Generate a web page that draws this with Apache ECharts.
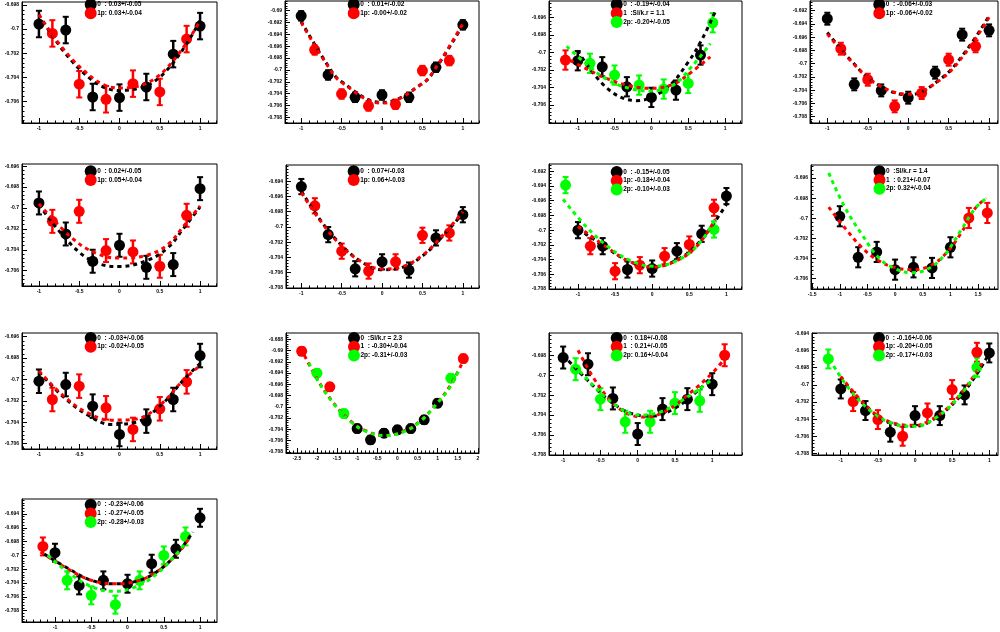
<!DOCTYPE html>
<html><head><meta charset="utf-8">
<script src="https://cdn.jsdelivr.net/npm/echarts@6/dist/echarts.min.js"></script>
<style>html,body{margin:0;padding:0;background:#fff;}#c{width:1000px;height:632px;}</style>
</head><body><div id="c"></div>
<script>
// ---------- tick labels ----------
const XT_STD = [-1, -0.5, 0, 0.5, 1];
const XT_P8 = [-1.5, -1, -0.5, 0, 0.5, 1, 1.5];
const XT_P10 = [-2.5, -2, -1.5, -1, -0.5, 0, 0.5, 1, 1.5, 2];
const YT_P1 = [-0.706, -0.704, -0.702, -0.7, -0.698];
const YT_P2 = [-0.708, -0.706, -0.704, -0.702, -0.7, -0.698, -0.696, -0.694, -0.692, -0.69];
const YT_P3 = [-0.706, -0.704, -0.702, -0.7, -0.698, -0.696];
const YT_P4 = [-0.708, -0.706, -0.704, -0.702, -0.7, -0.698, -0.696, -0.694, -0.692];
const YT_P5 = [-0.706, -0.704, -0.702, -0.7, -0.698, -0.696];
const YT_P6 = [-0.708, -0.706, -0.704, -0.702, -0.7, -0.698, -0.696, -0.694];
const YT_P7 = [-0.708, -0.706, -0.704, -0.702, -0.7, -0.698, -0.696, -0.694, -0.692];
const YT_P8 = [-0.706, -0.704, -0.702, -0.7, -0.698, -0.696];
const YT_P9 = [-0.706, -0.704, -0.702, -0.7, -0.698, -0.696];
const YT_P10 = [-0.708, -0.706, -0.704, -0.702, -0.7, -0.698, -0.696, -0.694, -0.692, -0.69, -0.688];
const YT_P11 = [-0.708, -0.706, -0.704, -0.702, -0.7, -0.698];
const YT_P12 = [-0.708, -0.706, -0.704, -0.702, -0.7, -0.698, -0.696, -0.694];
const YT_P13 = [-0.708, -0.706, -0.704, -0.702, -0.7, -0.698, -0.696, -0.694];

// ---------- legend texts ----------
const LEG_P1 = ['0  : 0.03+/-0.05', '1p: 0.03+/-0.04'];
const LEG_P2 = ['0  : 0.01+/-0.02', '1p: -0.00+/-0.02'];
const LEG_P3 = ['0  : -0.19+/-0.04', '1  :Sl/k.r = 1.1', '2p: -0.20+/-0.05'];
const LEG_P4 = ['0  : -0.06+/-0.03', '1p: -0.06+/-0.02'];
const LEG_P5 = ['0  : 0.02+/-0.05', '1p: 0.05+/-0.04'];
const LEG_P6 = ['0  : 0.07+/-0.03', '1p: 0.06+/-0.03'];
const LEG_P7 = ['0  : -0.15+/-0.05', '1p: -0.18+/-0.04', '2p: -0.10+/-0.03'];
const LEG_P8 = ['0  :Sl/k.r = 1.4', '1  : 0.21+/-0.07', '2p: 0.32+/-0.04'];
const LEG_P9 = ['0  : -0.03+/-0.06', '1p: -0.02+/-0.05'];
const LEG_P10 = ['0  :Sl/k.r = 2.3', '1  : -0.30+/-0.04', '2p: -0.31+/-0.03'];
const LEG_P11 = ['0  : 0.18+/-0.08', '1  : 0.21+/-0.05', '2p: 0.16+/-0.04'];
const LEG_P12 = ['0  : -0.16+/-0.06', '1p: -0.20+/-0.05', '2p: -0.17+/-0.03'];
const LEG_P13 = ['0  : -0.23+/-0.06', '1  : -0.27+/-0.05', '2p: -0.28+/-0.03'];

// ---------- points [x, y, error] ; fits [x, y] ----------
const P1_K = [[-1,-0.69958,0.0011],[-0.667,-0.70008,0.0011],[-0.333,-0.70564,0.0011],[0,-0.70569,0.0011],[0.333,-0.70481,0.0011],[0.667,-0.70208,0.0011],[1,-0.69975,0.0011]];
const P1_R = [[-0.833,-0.70036,0.0011],[-0.5,-0.70458,0.0011],[-0.167,-0.70583,0.0011],[0.167,-0.70453,0.0011],[0.5,-0.70522,0.0011],[0.833,-0.70083,0.0011]];
const P1_KF = [[-1,-0.6988],[-0.5,-0.7033],[0,-0.7051],[0.5,-0.7040],[1,-0.6993]];
const P1_RF = [[-1,-0.6988],[-0.5,-0.7031],[0,-0.7049],[0.5,-0.7038],[1,-0.6993]];

const P2_K = [[-1,-0.69087,0.0008],[-0.667,-0.70085,0.0008],[-0.333,-0.70462,0.0008],[0,-0.70423,0.0008],[0.333,-0.70462,0.0008],[0.667,-0.69955,0.0008],[1,-0.69239,0.0008]];
const P2_R = [[-0.833,-0.69662,0.0008],[-0.5,-0.70406,0.0008],[-0.167,-0.70608,0.0008],[0.167,-0.7058,0.0008],[0.5,-0.70011,0.0008],[0.833,-0.69842,0.0008]];
const P2_KF = [[-1,-0.6918],[-0.667,-0.6993],[-0.5,-0.7020],[0,-0.7055],[0.5,-0.7023],[0.667,-0.6997],[1,-0.6924]];
const P2_RF = [[-1,-0.6920],[-0.667,-0.6994],[-0.5,-0.7021],[0,-0.7056],[0.5,-0.7023],[0.667,-0.6996],[1,-0.6922]];

const P3_K = [[-1,-0.70095,0.0011],[-0.667,-0.70164,0.0011],[-0.333,-0.70392,0.0011],[0,-0.70513,0.0011],[0.333,-0.7043,0.0011],[0.667,-0.7003,0.0011]];
const P3_R = [[-1.167,-0.70087,0.0011]];
const P3_G = [[-0.833,-0.70125,0.0011],[-0.5,-0.70259,0.0011],[-0.167,-0.70373,0.0011],[0.167,-0.70418,0.0011],[0.5,-0.70354,0.0011],[0.833,-0.69662,0.0011]];
const P3_KF = [[-1,-0.6998],[-0.6,-0.7041],[-0.2,-0.7055],[0.2,-0.7041],[0.5,-0.7011],[0.7,-0.6983],[0.88,-0.6951]];
const P3_RF = [[-1.2,-0.7005],[-0.9,-0.7018],[-0.6,-0.7030],[-0.3,-0.7038],[0,-0.7041],[0.3,-0.7036],[0.55,-0.7022],[0.8,-0.7005]];
const P3_GF = [[-1.15,-0.6993],[-0.9,-0.7012],[-0.6,-0.7031],[-0.3,-0.7041],[0,-0.7044],[0.3,-0.7037],[0.55,-0.7016],[0.8,-0.6990]];

const P4_K = [[-1,-0.69321,0.0009],[-0.667,-0.70312,0.0009],[-0.333,-0.70403,0.0009],[0,-0.70513,0.0009],[0.333,-0.70136,0.0009],[0.667,-0.69562,0.0009],[1,-0.69497,0.0009]];
const P4_R = [[-0.833,-0.69774,0.0009],[-0.5,-0.70242,0.0009],[-0.167,-0.70644,0.0009],[0.167,-0.70443,0.0009],[0.5,-0.6994,0.0009],[0.833,-0.69738,0.0009]];
const P4_KF = [[-1,-0.6953],[-0.7,-0.6996],[-0.4,-0.7030],[0,-0.7047],[0.4,-0.7023],[0.7,-0.6983],[1,-0.6928]];
const P4_RF = [[-1,-0.6955],[-0.7,-0.6997],[-0.4,-0.7030],[0,-0.7046],[0.4,-0.7024],[0.7,-0.6985],[1,-0.6930]];

const P5_K = [[-1,-0.69952,0.0011],[-0.667,-0.70249,0.0011],[-0.333,-0.7051,0.0011],[0,-0.70357,0.0011],[0.333,-0.70568,0.0011],[0.667,-0.70542,0.0011],[1,-0.69815,0.0011]];
const P5_R = [[-0.833,-0.70128,0.0011],[-0.5,-0.70032,0.0011],[-0.167,-0.70408,0.0011],[0.167,-0.70421,0.0011],[0.5,-0.70558,0.0011],[0.833,-0.7007,0.0011]];
const P5_KF = [[-1,-0.6997],[-0.6,-0.7035],[-0.3,-0.7052],[0,-0.7056],[0.35,-0.7050],[0.6,-0.7038],[0.8,-0.7019],[1,-0.6999]];
const P5_RF = [[-1,-0.6996],[-0.6,-0.7028],[-0.3,-0.7043],[0,-0.7048],[0.35,-0.7045],[0.6,-0.7035],[0.8,-0.7017],[1,-0.6998]];

const P6_K = [[-1,-0.6947,0.001],[-0.667,-0.701,0.001],[-0.333,-0.70548,0.001],[0,-0.70457,0.001],[0.333,-0.70565,0.001],[0.667,-0.70143,0.001],[1,-0.69839,0.001]];
const P6_R = [[-0.833,-0.69722,0.001],[-0.5,-0.70317,0.001],[-0.167,-0.70578,0.001],[0.167,-0.70457,0.001],[0.5,-0.70109,0.001],[0.833,-0.70078,0.001]];
const P6_KF = [[-1,-0.6953],[-0.75,-0.6993],[-0.5,-0.7024],[-0.25,-0.7046],[0,-0.7056],[0.25,-0.7053],[0.5,-0.7038],[0.75,-0.7012],[1,-0.6982]];
const P6_RF = [[-1,-0.6955],[-0.75,-0.6994],[-0.5,-0.7025],[-0.25,-0.7046],[0,-0.7055],[0.25,-0.7052],[0.5,-0.7037],[0.75,-0.7011],[1,-0.6980]];

const P7_K = [[-1,-0.7,0.0011],[-0.667,-0.70218,0.0011],[-0.333,-0.70535,0.0011],[0,-0.70522,0.0011],[0.333,-0.70286,0.0011],[0.667,-0.7005,0.0011],[1,-0.69537,0.0011]];
const P7_R = [[-0.833,-0.70218,0.0011],[-0.5,-0.70558,0.0011],[-0.167,-0.70476,0.0011],[0.167,-0.70354,0.0011],[0.5,-0.70195,0.0011],[0.833,-0.69696,0.0011]];
const P7_G = [[-1.167,-0.69388,0.0011],[0.833,-0.69991,0.0011]];
const P7_KF = [[-1,-0.6998],[-0.6,-0.7025],[-0.3,-0.7043],[0,-0.7050],[0.3,-0.7042],[0.6,-0.7020],[1,-0.6965]];
const P7_RF = [[-1,-0.6995],[-0.6,-0.7024],[-0.3,-0.7043],[0,-0.7050],[0.3,-0.7043],[0.6,-0.7022],[0.85,-0.6985]];
const P7_GF = [[-1.2,-0.6958],[-0.9,-0.6994],[-0.6,-0.7022],[-0.3,-0.7041],[0,-0.7049],[0.3,-0.7043],[0.6,-0.7022],[0.85,-0.6985]];

const P8_K = [[-1,-0.6998,0.001],[-0.667,-0.70387,0.001],[-0.333,-0.70334,0.001],[0,-0.7051,0.001],[0.333,-0.70487,0.001],[0.667,-0.70493,0.001],[1,-0.70288,0.001]];
const P8_R = [[1.333,-0.69997,0.001],[1.667,-0.69947,0.001]];
const P8_RF = [[-1.2,-0.6989],[-0.9,-0.7010],[-0.6,-0.7029],[-0.3,-0.7042],[0,-0.7049],[0.3,-0.7051],[0.6,-0.7048],[0.9,-0.7036],[1.2,-0.7014],[1.45,-0.6990],[1.65,-0.6980]];
const P8_GF = [[-1.2,-0.6955],[-0.9,-0.6990],[-0.6,-0.7016],[-0.3,-0.7039],[0,-0.7050],[0.3,-0.7054],[0.6,-0.7050],[0.9,-0.7036],[1.2,-0.7011],[1.45,-0.6990],[1.65,-0.6980]];

const P9_K = [[-1,-0.70016,0.0011],[-0.667,-0.70047,0.0011],[-0.333,-0.70249,0.0011],[0,-0.70514,0.0011],[0.333,-0.70389,0.0011],[0.667,-0.70187,0.0011],[1,-0.69776,0.0011]];
const P9_R = [[-0.833,-0.70187,0.0011],[-0.5,-0.70062,0.0011],[-0.167,-0.70265,0.0011],[0.167,-0.70467,0.0011],[0.5,-0.70274,0.0011],[0.833,-0.70022,0.0011]];
const P9_KF = [[-1,-0.6993],[-0.7,-0.7016],[-0.4,-0.7033],[-0.1,-0.7042],[0.2,-0.7040],[0.5,-0.7025],[0.8,-0.7000],[1,-0.6985]];
const P9_RF = [[-1,-0.6992],[-0.7,-0.7015],[-0.4,-0.7031],[-0.1,-0.7038],[0.2,-0.7037],[0.5,-0.7024],[0.8,-0.7000],[1,-0.6987]];

const P10_K = [[-1,-0.70385,0.0007],[-0.667,-0.70586,0.0007],[-0.333,-0.70467,0.0007],[0,-0.70408,0.0007],[0.333,-0.70385,0.0007],[0.667,-0.70231,0.0007],[1,-0.69935,0.0007]];
const P10_R = [[-2.38,-0.69012,0.0007],[-1.68,-0.69645,0.0007],[1.64,-0.69142,0.0007]];
const P10_G = [[-2.0,-0.69402,0.0007],[-1.33,-0.70118,0.0007],[1.33,-0.69491,0.0007]];
const P10_RF = [[-2.4,-0.6896],[-2,-0.6950],[-1.6,-0.6992],[-1.2,-0.7023],[-0.8,-0.7042],[-0.3,-0.7051],[0.2,-0.7042],[0.6,-0.7023],[1,-0.6992],[1.3,-0.6964],[1.6,-0.6924]];
const P10_GF = [[-2.2,-0.6922],[-2,-0.6951],[-1.6,-0.6993],[-1.2,-0.7024],[-0.8,-0.7043],[-0.3,-0.7051],[0.2,-0.7043],[0.6,-0.7024],[1,-0.6993],[1.3,-0.6966],[1.55,-0.6932]];

const P11_K = [[-1,-0.69823,0.0011],[-0.667,-0.6989,0.0011],[-0.333,-0.70233,0.0011],[0,-0.7059,0.0011],[0.333,-0.7034,0.0011],[0.667,-0.7024,0.0011],[1,-0.7009,0.0011]];
const P11_R = [[1.167,-0.698,0.0011]];
const P11_G = [[-0.833,-0.6994,0.0011],[-0.5,-0.7024,0.0011],[-0.167,-0.70467,0.0011],[0.167,-0.70467,0.0011],[0.5,-0.7028,0.0011],[0.833,-0.70257,0.0011]];
const P11_KF = [[-1,-0.6980],[-0.7,-0.7003],[-0.4,-0.7024],[-0.1,-0.7038],[0.2,-0.7041],[0.5,-0.7033],[0.8,-0.7016],[1,-0.7001]];
const P11_RF = [[-0.8,-0.6975],[-0.5,-0.7013],[-0.2,-0.7036],[0.1,-0.7042],[0.4,-0.7035],[0.7,-0.7018],[1,-0.6998],[1.15,-0.6985]];
const P11_GF = [[-0.85,-0.6990],[-0.6,-0.7010],[-0.3,-0.7030],[0,-0.7040],[0.3,-0.7037],[0.6,-0.7025],[0.9,-0.7010],[1,-0.7004]];

const P12_K = [[-1,-0.70047,0.0011],[-0.667,-0.70298,0.0011],[-0.333,-0.7055,0.0011],[0,-0.70357,0.0011],[0.333,-0.70357,0.0011],[0.667,-0.70116,0.0011],[1,-0.69628,0.0011]];
const P12_R = [[-0.833,-0.70194,0.0011],[-0.5,-0.70403,0.0011],[-0.167,-0.70597,0.0011],[0.167,-0.70326,0.0011],[0.5,-0.70054,0.0011],[0.833,-0.6962,0.0011]];
const P12_G = [[-1.167,-0.69698,0.0011],[0.833,-0.69795,0.0011]];
const P12_KF = [[-1,-0.6992],[-0.6,-0.7030],[-0.3,-0.7045],[0,-0.7048],[0.3,-0.7037],[0.6,-0.7014],[0.85,-0.6985],[1,-0.6963]];
const P12_RF = [[-1,-0.6990],[-0.6,-0.7029],[-0.3,-0.7044],[0,-0.7047],[0.3,-0.7036],[0.6,-0.7012],[0.9,-0.6975]];
const P12_GF = [[-1.15,-0.6970],[-0.9,-0.7003],[-0.6,-0.7030],[-0.3,-0.7045],[0,-0.7048],[0.3,-0.7037],[0.6,-0.7013],[0.85,-0.6983]];

const P13_K = [[-1,-0.69961,0.0013],[-0.667,-0.70434,0.0013],[-0.333,-0.70361,0.0013],[0,-0.7041,0.0013],[0.333,-0.7012,0.0013],[0.667,-0.69904,0.0013],[1,-0.69455,0.0013]];
const P13_R = [[-1.167,-0.6987,0.0013]];
const P13_G = [[-0.833,-0.70361,0.0013],[-0.5,-0.70578,0.0013],[-0.167,-0.70713,0.0013],[0.167,-0.70361,0.0013],[0.5,-0.7,0.0013],[0.8,-0.69725,0.0013]];
const P13_KF = [[-1.15,-0.6998],[-0.8,-0.7020],[-0.5,-0.7036],[-0.2,-0.7041],[0.1,-0.7038],[0.4,-0.7024],[0.7,-0.6995],[0.9,-0.6966]];
const P13_RF = [[-1.2,-0.6995],[-0.8,-0.7021],[-0.5,-0.7036],[-0.2,-0.7041],[0.1,-0.7038],[0.4,-0.7024],[0.7,-0.6996],[0.85,-0.6975]];
const P13_GF = [[-1.1,-0.7000],[-0.8,-0.7026],[-0.5,-0.7045],[-0.2,-0.7052],[0.1,-0.7046],[0.4,-0.7027],[0.7,-0.6995],[0.8,-0.6981]];

// ---------- panel composition ----------
const PANELS = [
  {pts:[P1_K,P1_R,null], fit:[P1_KF,P1_RF,null], leg:LEG_P1, yt:YT_P1, xt:XT_STD},
  {pts:[P2_K,P2_R,null], fit:[P2_KF,P2_RF,null], leg:LEG_P2, yt:YT_P2, xt:XT_STD},
  {pts:[P3_K,P3_R,P3_G], fit:[P3_KF,P3_RF,P3_GF], leg:LEG_P3, yt:YT_P3, xt:XT_STD},
  {pts:[P4_K,P4_R,null], fit:[P4_KF,P4_RF,null], leg:LEG_P4, yt:YT_P4, xt:XT_STD},
  {pts:[P5_K,P5_R,null], fit:[P5_KF,P5_RF,null], leg:LEG_P5, yt:YT_P5, xt:XT_STD},
  {pts:[P6_K,P6_R,null], fit:[P6_KF,P6_RF,null], leg:LEG_P6, yt:YT_P6, xt:XT_STD},
  {pts:[P7_K,P7_R,P7_G], fit:[P7_KF,P7_RF,P7_GF], leg:LEG_P7, yt:YT_P7, xt:XT_STD},
  {pts:[P8_K,P8_R,null], fit:[null,P8_RF,P8_GF], leg:LEG_P8, yt:YT_P8, xt:XT_P8},
  {pts:[P9_K,P9_R,null], fit:[P9_KF,P9_RF,null], leg:LEG_P9, yt:YT_P9, xt:XT_STD},
  {pts:[P10_K,P10_R,P10_G], fit:[null,P10_RF,P10_GF], leg:LEG_P10, yt:YT_P10, xt:XT_P10},
  {pts:[P11_K,P11_R,P11_G], fit:[P11_KF,P11_RF,P11_GF], leg:LEG_P11, yt:YT_P11, xt:XT_STD},
  {pts:[P12_K,P12_R,P12_G], fit:[P12_KF,P12_RF,P12_GF], leg:LEG_P12, yt:YT_P12, xt:XT_STD},
  {pts:[P13_K,P13_R,P13_G], fit:[P13_KF,P13_RF,P13_GF], leg:LEG_P13, yt:YT_P13, xt:XT_STD}
];

// ---------- layout (frame pixels, axis ranges) ----------
// [left, top, right, bottom, xmin, xmax, ymin, ymax]
const LAYOUT = [
  [22,2,217,123,-1.21,1.21,-0.7078,-0.69775],
  [285,1,479,123,-1.2,1.2,-0.70896,-0.68836],
  [549,1,742,123,-1.39,1.23,-0.70805,-0.69414],
  [810,1,998,123,-1.214,1.11,-0.70895,-0.69054],
  [22,164,217,286,-1.21,1.21,-0.70747,-0.69579],
  [286,165,479,288,-1.19,1.2,-0.708,-0.69187],
  [549,164,742,289,-1.39,1.21,-0.708,-0.69101],
  [811,165,998,289,-1.52,1.86,-0.70702,-0.69471],
  [22,333,217,449,-1.21,1.21,-0.7065,-0.69565],
  [286,333,479,453,-2.77,2.03,-0.7082,-0.68688],
  [549,333,742,455,-1.19,1.4,-0.708,-0.69577],
  [812,333,998,455,-1.387,1.117,-0.70815,-0.69396],
  [22,499,217,622,-1.455,1.234,-0.70964,-0.69183]
];
// legend: [marker cx, first row cy]
const LEGPOS = [
  [90.7,4.5],[353.7,4.5],[616.7,4.5],[879.3,4.5],
  [90.7,171.3],[353.7,171.3],[616.7,172],[879.5,171.3],
  [90.7,338],[354,338],[616.7,338],[879,338],
  [90.7,504.7]
];
const COLORS = ['#000000','#ff0000','#00ff00'];
const FONT = 'Liberation Sans';

function fmt(v){ return String(+(+v).toFixed(4)); }
function minorVals(min, max, step){
  const out = [];
  const s = Math.ceil(min/step - 1e-9), e = Math.floor(max/step + 1e-9);
  for (let k = s; k <= e; k++) out.push(+(k*step).toFixed(6));
  return out;
}
function errRender(color){
  return function(params, api){
    const x = api.value(0), y = api.value(1), e = api.value(2);
    const a = api.coord([x, y + e]), b = api.coord([x, y - e]);
    return {type:'group', children:[
      {type:'line', shape:{x1:a[0], y1:a[1], x2:b[0], y2:b[1]}, style:{stroke:color, lineWidth:2.5}},
      {type:'line', shape:{x1:a[0]-3, y1:a[1], x2:a[0]+3, y2:a[1]}, style:{stroke:color, lineWidth:2}},
      {type:'line', shape:{x1:b[0]-3, y1:b[1], x2:b[0]+3, y2:b[1]}, style:{stroke:color, lineWidth:2}}
    ]};
  };
}

const grids = [], xAxes = [], yAxes = [], series = [], graphics = [];
PANELS.forEach((p, i) => {
  const [l, t, r, b, x0, x1, y0, y1] = LAYOUT[i];
  grids.push({left:l, top:t, width:r-l, height:b-t, show:true, borderColor:'#000', borderWidth:1, backgroundColor:'#fff'});
  const xi = xAxes.length, yi = yAxes.length;
  xAxes.push({type:'value', gridIndex:i, position:'bottom', min:x0, max:x1,
    axisLine:{show:true, onZero:false, lineStyle:{color:'#000', width:1}},
    axisTick:{show:true, inside:true, length:5, customValues:p.xt, lineStyle:{color:'#000'}},
    axisLabel:{show:true, customValues:p.xt, formatter:fmt, fontSize:5, fontWeight:'bold', fontFamily:FONT, color:'#000', margin:3},
    splitLine:{show:false}});
  xAxes.push({type:'value', gridIndex:i, position:'bottom', min:x0, max:x1,
    axisLine:{show:false, onZero:false},
    axisTick:{show:true, inside:true, length:2.5, customValues:minorVals(x0, x1, 0.1), lineStyle:{color:'#000'}},
    axisLabel:{show:false}, splitLine:{show:false}});
  yAxes.push({type:'value', gridIndex:i, position:'left', min:y0, max:y1,
    axisLine:{show:true, onZero:false, lineStyle:{color:'#000', width:1}},
    axisTick:{show:true, inside:true, length:5, customValues:p.yt, lineStyle:{color:'#000'}},
    axisLabel:{show:true, customValues:p.yt, formatter:fmt, fontSize:5, fontWeight:'bold', fontFamily:FONT, color:'#000', margin:3},
    splitLine:{show:false}});
  yAxes.push({type:'value', gridIndex:i, position:'left', min:y0, max:y1,
    axisLine:{show:false, onZero:false},
    axisTick:{show:true, inside:true, length:2.5, customValues:minorVals(y0, y1, 0.0004), lineStyle:{color:'#000'}},
    axisLabel:{show:false}, splitLine:{show:false}});

  for (let c = 0; c < 3; c++) {
    const pts = p.pts[c], fit = p.fit[c], col = COLORS[c];
    if (pts) {
      series.push({type:'custom', xAxisIndex:xi, yAxisIndex:yi, data:pts, encode:{x:0, y:1},
        renderItem:errRender(col), silent:true, clip:false});
      series.push({type:'scatter', xAxisIndex:xi, yAxisIndex:yi, data:pts.map(d => [d[0], d[1]]),
        symbol:'circle', symbolSize:11, itemStyle:{color:col, opacity:1}, silent:true});
    }
    if (fit) {
      series.push({type:'line', xAxisIndex:xi, yAxisIndex:yi, data:fit, smooth:0.4, showSymbol:false,
        lineStyle:{color:col, width:3, type:[4,4]}, silent:true});
    }
  }
  const [cx, cy] = LEGPOS[i];
  p.leg.forEach((txt, k) => {
    const yy = cy + k*8.7;
    graphics.push({type:'circle', shape:{cx:cx, cy:yy, r:6}, style:{fill:COLORS[k]}, z:100});
    graphics.push({type:'text', x:cx+6.5, y:yy, style:{text:txt, fill:'#000', fontSize:6.5, fontWeight:'bold', fontFamily:FONT, verticalAlign:'middle', align:'left'}, z:101});
  });
});

const chart = echarts.init(document.getElementById('c'), null, {renderer:'canvas'});
chart.setOption({
  animation:false,
  backgroundColor:'#fff',
  grid:grids, xAxis:xAxes, yAxis:yAxes, series:series, graphic:graphics
});
</script></body></html>
